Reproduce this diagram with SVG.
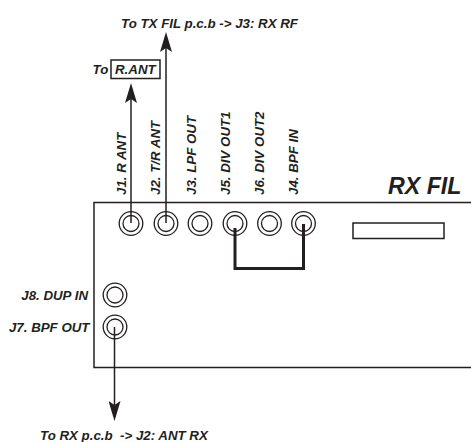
<svg xmlns="http://www.w3.org/2000/svg" width="471" height="442" viewBox="0 0 471 442">
<defs>
<marker id="arr" markerUnits="userSpaceOnUse" markerWidth="20" markerHeight="12" refX="16" refY="6" viewBox="0 0 20 12" orient="auto"><path d="M20 6L0 12L4 6L0 0Z" fill="#231f20"/></marker>
</defs>
<style>
text{font-family:"Liberation Sans",Arial,sans-serif;font-weight:bold;font-style:italic;fill:#231f20;font-size:13.300px}
.o{fill:#fff;stroke:#231f20;stroke-width:1.300}
.i{fill:none;stroke:#231f20;stroke-width:1.300}
.l{fill:none;stroke:#231f20;stroke-width:1.500}
</style>
<g id="board"><path d="M471 202.500H94V367.500H471" class="l"/></g>
<g id="slot"><rect x="353" y="223" width="91" height="15.500" fill="#fff" stroke="#231f20" stroke-width="1.500"/></g>
<g id="J1"><circle cx="131" cy="223.500" r="11.800" class="o"/><circle cx="131" cy="223.500" r="8" class="i"/><text transform="translate(126 195) rotate(-90)">J1. R ANT</text></g>
<g id="J2"><circle cx="166" cy="223.500" r="11.800" class="o"/><circle cx="166" cy="223.500" r="8" class="i"/><text transform="translate(160 195) rotate(-90)">J2. T/R ANT</text></g>
<g id="J3"><circle cx="200" cy="223.500" r="11.800" class="o"/><circle cx="200" cy="223.500" r="8" class="i"/><text transform="translate(195.500 195) rotate(-90)">J3. LPF OUT</text></g>
<g id="J5"><circle cx="235" cy="223.500" r="11.800" class="o"/><circle cx="235" cy="223.500" r="8" class="i"/><text transform="translate(230 195) rotate(-90)">J5. DIV OUT1</text></g>
<g id="J6"><circle cx="269.500" cy="223.500" r="11.800" class="o"/><circle cx="269.500" cy="223.500" r="8" class="i"/><text transform="translate(264 195) rotate(-90)">J6. DIV OUT2</text></g>
<g id="J4"><circle cx="303.500" cy="223.500" r="11.800" class="o"/><circle cx="303.500" cy="223.500" r="8" class="i"/><text transform="translate(298 195) rotate(-90)">J4. BPF IN</text></g>
<g id="J8"><circle cx="115" cy="295" r="11.800" class="o"/><circle cx="115" cy="295" r="8" class="i"/><text x="88" y="300" text-anchor="end">J8. DUP IN</text></g>
<g id="J7"><circle cx="115" cy="327" r="11.800" class="o"/><circle cx="115" cy="327" r="8" class="i"/><text x="89.500" y="332" text-anchor="end">J7. BPF OUT</text></g>
<g id="connectors">
<path d="M131 223V87" class="l" marker-end="url(#arr)"/>
<path d="M166 223V36" class="l" marker-end="url(#arr)"/>
<path d="M114.500 327V417" class="l" marker-end="url(#arr)"/>
<path d="M235 228V268.500H303.500V224" fill="none" stroke="#231f20" stroke-width="3"/>
</g>
<g id="labels">
<text x="121" y="28">To TX FIL p.c.b -&gt; J3: RX RF</text>
<text x="92.500" y="74">To</text>
<g id="rant"><rect x="111" y="60" width="49" height="18.500" fill="#fff" stroke="#231f20" stroke-width="1.500"/><text x="115" y="74">R.ANT</text></g>
<text x="388" y="193.500" style="font-size:23.200px">RX FIL</text>
<text x="40" y="440" xml:space="preserve">To RX p.c.b  -&gt; J2: ANT RX</text>
</g>
</svg>
